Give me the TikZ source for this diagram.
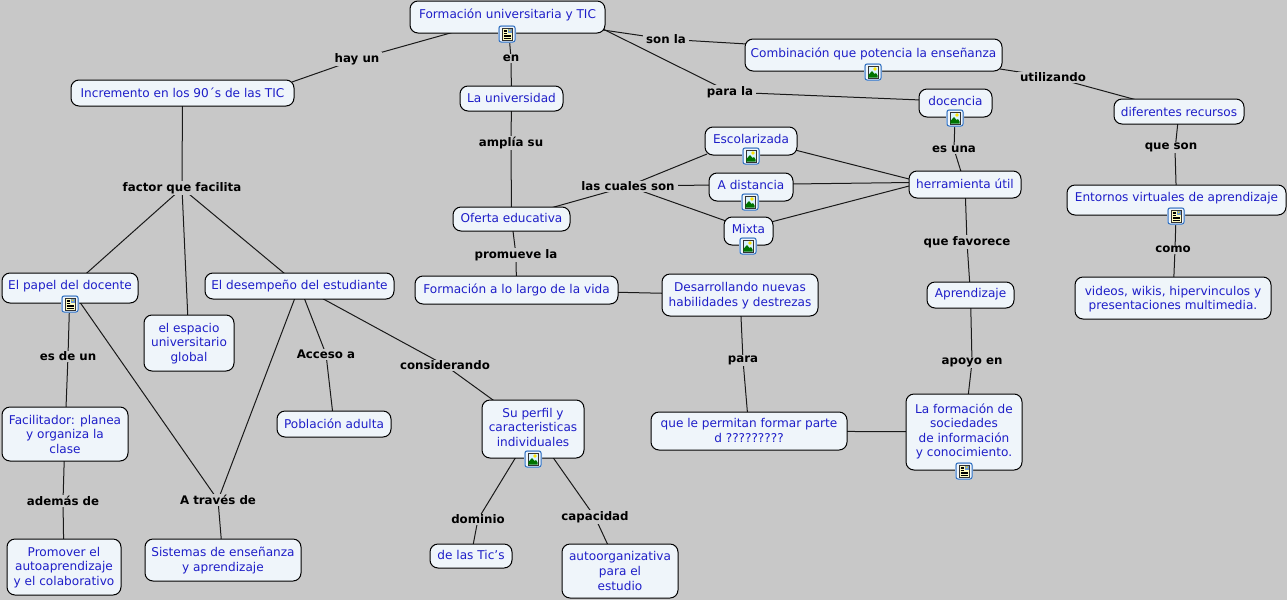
\documentclass[tikz,border=0pt]{standalone}
\usepackage{fontspec}
\setmainfont{DejaVu Sans}
\definecolor{bgc}{HTML}{C8C8C8}
\definecolor{boxc}{HTML}{EFF5FA}
\definecolor{txtc}{HTML}{1E1EC8}
\definecolor{iconb}{HTML}{2F6FC0}
\pgfdeclarelayer{background}
\pgfsetlayers{background,main}
\tikzset{
  x=1pt,y=-1pt,
  concept/.style={draw=black,line width=1pt,fill=boxc,rounded corners=8pt,inner sep=0pt,outer sep=0pt,text=txtc,font=\fontsize{12.1}{14.6}\selectfont},
  linkword/.style={fill=bgc,inner xsep=3pt,inner ysep=1pt,text=black,font=\fontsize{11.8}{14.6}\selectfont\bfseries},
  conn/.style={draw=black!90,line width=1pt},
  iconbase/.style={draw=iconb,line width=1pt,fill=boxc,rounded corners=2pt},
  pics/imgicon/.style={code={
    \draw[white!70!iconb,line width=2pt,rounded corners=3pt] (-8,-8) rectangle (8,8);
    \draw[iconbase] (-8,-8) rectangle (8,8);
    \draw[black!80,line width=0.7pt,fill=white!85!cyan] (-5,-6) rectangle (5,6);
    \fill[yellow!85!orange] (2,-3) circle (1.8);
    \fill[green!45!black] (-4.6,5.6) -- (-4.6,3) -- (-1,-1) -- (1.5,2) -- (3,1) -- (4.6,3.5) -- (4.6,5.6) -- cycle;
  }},
  pics/docicon/.style={code={
    \draw[white!70!iconb,line width=2pt,rounded corners=3pt] (-8,-8) rectangle (8,8);
    \draw[iconbase] (-8,-8) rectangle (8,8);
    \draw[black!80,line width=0.7pt,fill=yellow!25] (-5,-6) rectangle (5,6);
    \fill[iconb!70] (0.5,-5.5) rectangle (4.5,-1);
    \fill[yellow!80!orange] (2.8,-3.8) circle (0.9);
    \foreach \yy in {-4,-2.4,-0.8}{\draw[black,line width=0.6pt] (-3.5,\yy) -- (-0.5,\yy);}
    \foreach \yy in {1,2.6,4}{\draw[black,line width=0.6pt] (-3.5,\yy) -- (3.5,\yy);}
  }}
}
\newcommand{\conceptbox}[7]{%
  \pgfmathsetmacro{\cbw}{#4-#2}\pgfmathsetmacro{\cbh}{#5-#3}%
  \pgfmathsetmacro{\cbx}{(#4+#2)/2}\pgfmathsetmacro{\cby}{(#5+#3)/2}%
  \pgfmathsetmacro{\cbr}{#6-3}%
  \node[concept,minimum width=\cbw pt,minimum height=\cbh pt] (#1) at (\cbx,\cby)
    {\raisebox{\cbr pt}[0pt][0pt]{\begin{tabular}{@{}c@{}}#7\end{tabular}}};}
\newcommand{\lw}[4]{\node[linkword,yshift=-1.2pt] (#1) at (#2,#3) {#4};}
\begin{document}
\begin{tikzpicture}
\useasboundingbox (0,0) rectangle (1287,600);
\begin{pgfonlayer}{background}
\fill[bgc] (0,0) rectangle (1287,600);
\end{pgfonlayer}
\conceptbox{form}{410}{1}{605}{33}{1}{Formación universitaria y TIC}
\conceptbox{incr}{71}{80}{294}{106}{-2}{Incremento en los 90´s de las TIC}
\conceptbox{univ}{460}{86}{563}{111}{-1}{La universidad}
\conceptbox{comb}{745}{39}{1002}{71}{0}{Combinación que potencia la enseñanza}
\conceptbox{doce}{919}{89}{992}{117}{0}{docencia}
\conceptbox{dife}{1114}{99}{1244}{124}{-2}{diferentes recursos}
\conceptbox{esco}{705}{127}{797}{155}{0}{Escolarizada}
\conceptbox{dist}{709}{173}{793}{201}{0}{A distancia}
\conceptbox{mixt}{724}{217}{773}{245}{0}{Mixta}
\conceptbox{herr}{909}{171}{1021}{198}{-1}{herramienta útil}
\conceptbox{ento}{1067}{185}{1286}{215}{1}{Entornos virtuales de aprendizaje}
\conceptbox{ofer}{453}{207}{570}{231}{-1}{Oferta educativa}
\conceptbox{pape}{2}{273}{138}{303}{1}{El papel del docente}
\conceptbox{dese}{205}{273}{394}{299}{-1}{El desempeño del estudiante}
\conceptbox{larg}{415}{276}{618}{304}{-1}{Formación a lo largo de la vida}
\conceptbox{desa}{662}{274}{818}{316}{-1}{Desarrollando nuevas\\habilidades y destrezas}
\conceptbox{apre}{927}{282}{1014}{308}{0}{Aprendizaje}
\conceptbox{vide}{1075}{277}{1271}{319}{-1.5}{videos, wikis, hipervinculos y\\presentaciones multimedia.}
\conceptbox{espa}{144}{315}{234}{371}{-1}{el espacio\\universitario\\global}
\conceptbox{faci}{2}{407}{128}{461}{-2}{Facilitador: planea\\y organiza la\\clase}
\conceptbox{pobl}{277}{411}{391}{437}{-2}{Población adulta}
\conceptbox{perf}{482}{400}{584}{458}{0}{Su perfil y\\caracteristicas\\individuales}
\conceptbox{perm}{651}{412}{847}{450}{-1}{que le permitan formar parte\\d ?????????}
\conceptbox{soci}{906}{394}{1022}{470}{0}{La formación de\\sociedades\\de información\\y conocimiento.}
\conceptbox{prom}{7}{539}{121}{595}{-1}{Promover el\\autoaprendizaje\\y el colaborativo}
\conceptbox{sist}{145}{539}{301}{581}{-1}{Sistemas de enseñanza\\y aprendizaje}
\conceptbox{tics}{430}{544}{512}{568}{-1}{de las Tic{\char39}s}
\conceptbox{auto}{562}{544}{678}{598}{-1.5}{autoorganizativa\\para el\\estudio}
\lw{lhay}{357}{58}{hay un}
\lw{len}{511}{57}{en}
\lw{lson}{666}{38}{son la}
\lw{lpar}{730}{91}{para la}
\lw{luti}{1053}{76}{utilizando}
\lw{lamp}{511}{142}{amplía su}
\lw{lfac}{182}{187}{factor que facilita}
\lw{lcua}{628}{185}{las cuales son}
\lw{lesu}{954}{148}{es una}
\lw{lque}{1171}{146}{que son}
\lw{lcom}{1173}{248}{como}
\lw{lpro}{516}{254}{promueve la}
\lw{lfav}{967}{241}{que favorece}
\lw{lesd}{68}{355}{es de un}
\lw{lacc}{326}{353}{Acceso a}
\lw{lcon}{445}{364}{considerando}
\lw{lpra}{743}{359}{para}
\lw{lapo}{972}{361}{apoyo en}
\lw{lade}{63}{500}{además de}
\lw{ltra}{218}{499}{A través de}
\lw{ldom}{478}{518}{dominio}
\lw{lcap}{595}{516}{capacidad}
\pic at (507,34) {docicon};
\pic at (873,72) {imgicon};
\pic at (955,118) {imgicon};
\pic at (751,156) {imgicon};
\pic at (750,202) {imgicon};
\pic at (748,246) {imgicon};
\pic at (1176,216) {docicon};
\pic at (70,304) {docicon};
\pic at (533,459) {imgicon};
\pic at (964,471) {docicon};
\begin{pgfonlayer}{background}
\path[conn] (form.center) -- (lhay.center) (lhay.center) -- ([shift={(-2,2)}]incr.north east);
\path[conn] (form.center) -- (len.center) (len.center) -- (univ.center);
\path[conn] ([shift={(-2,-3)}]form.south east) -- (lson.center) (lson.center) -- ([shift={(2,-11)}]comb.west);
\path[conn] ([shift={(-2,-4)}]form.south east) -- (lpar.center) (lpar.center) -- ([shift={(2,-3)}]doce.west);
\path[conn] ([shift={(-2,-2)}]comb.south east) -- (luti.center) (luti.center) -- (dife.center);
\path[conn] (dife.center) -- ([shift={(4,3)}]lque.center) ([shift={(4,3)}]lque.center) -- (ento.center);
\path[conn] (ento.center) -- ([shift={(2,0)}]lcom.center) ([shift={(2,0)}]lcom.center) -- (vide.center);
\path[conn] (doce.center) -- (lesu.center) (lesu.center) -- (herr.center);
\path[conn] (herr.center) -- (lfav.center) (lfav.center) -- (apre.center);
\path[conn] (apre.center) -- (lapo.center) (lapo.center) -- (soci.center);
\path[conn] (soci.center) -- (perm.center);
\path[conn] (desa.center) -- (lpra.center) (lpra.center) -- (perm.center);
\path[conn] (larg.center) -- (desa.center);
\path[conn] (univ.center) -- (lamp.center) (lamp.center) -- (ofer.center);
\path[conn] (ofer.center) -- (lpro.center) (lpro.center) -- (larg.center);
\path[conn] (ofer.center) -- (lcua.center);
\path[conn] (lcua.center) -- ([shift={(2,-1)}]esco.south west);
\path[conn] (lcua.center) -- ([shift={(2,-2)}]dist.west);
\path[conn] (lcua.center) -- ([shift={(2,-10)}]mixt.west);
\path[conn] ([shift={(-2,9)}]esco.east) -- ([shift={(2,-5)}]herr.west);
\path[conn] ([shift={(-2,-3)}]dist.east) -- ([shift={(2,-2)}]herr.west);
\path[conn] ([shift={(-2,-9)}]mixt.east) -- ([shift={(2,1)}]herr.west);
\path[conn] (incr.center) -- (lfac.center);
\path[conn] (lfac.center) -- (pape.center);
\path[conn] (lfac.center) -- (espa.center);
\path[conn] (lfac.center) -- (dese.center);
\path[conn] (pape.center) -- (lesd.center) (lesd.center) -- (faci.center);
\path[conn] (faci.center) -- (lade.center) (lade.center) -- (prom.center);
\path[conn] (pape.center) -- (ltra.center);
\path[conn] (dese.center) -- (ltra.center);
\path[conn] (ltra.center) -- (sist.center);
\path[conn] (dese.center) -- (lacc.center) (lacc.center) -- (pobl.center);
\path[conn] (dese.center) -- (lcon.center) (lcon.center) -- (perf.center);
\path[conn] (perf.center) -- (ldom.center) (ldom.center) -- (tics.center);
\path[conn] (perf.center) -- (lcap.center) (lcap.center) -- (auto.center);
\end{pgfonlayer}
\end{tikzpicture}
\end{document}
